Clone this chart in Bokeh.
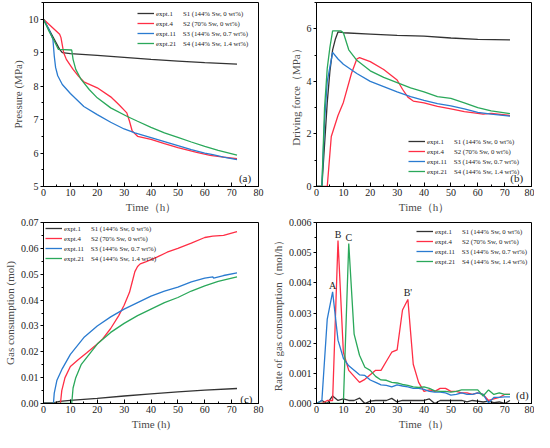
from bokeh.plotting import figure
from bokeh.layouts import gridplot
from bokeh.models import (Legend, LegendItem, SingleIntervalTicker, PrintfTickFormatter,
                          Label, ColumnDataSource, Range1d)
from bokeh.core.properties import value
from bokeh.embed import file_html
from bokeh.resources import INLINE

FONT = "Liberation Serif"
C_BLACK = "#333333"
C_RED = "#ff2e45"
C_BLUE = "#2a7bd0"
C_GREEN = "#2aa85a"

series_names = ["expt.1\u2002\u2002\u2002S1 (144% Sw, 0 wt%)",
                "expt.4\u2002\u2002\u2002S2 (70% Sw, 0 wt%)",
                "expt.11\u2002\u2002S3 (144% Sw, 0.7 wt%)",
                "expt.21\u2002\u2002S4 (144% Sw, 1.4 wt%)"]

# ---------- (a) Pressure ----------
a_s1_t = [0, 2, 4, 6, 7, 10, 20, 30, 40, 50, 60, 72]
a_s1_p = [10, 9.7, 9.4, 9.1, 9.0, 8.97, 8.92, 8.86, 8.8, 8.75, 8.7, 8.66]
a_s2_t = [0, 2, 4, 6, 6.5, 7.5, 8.5, 10, 11, 13, 15, 20, 25, 28, 31, 32, 33, 35, 40, 45, 50, 57, 62, 67, 72]
a_s2_p = [10, 9.85, 9.7, 9.55, 9.45, 9.0, 8.8, 8.62, 8.5, 8.3, 8.13, 7.95, 7.68, 7.45, 7.2, 6.95, 6.66, 6.5,
          6.41, 6.28, 6.16, 6.02, 5.93, 5.88, 5.83]
a_s3_t = [0, 2, 3.5, 4.0, 4.5, 5.3, 7, 10, 15, 20, 25, 30, 34, 40, 45, 50, 55, 60, 63, 67, 72]
a_s3_p = [10, 9.7, 9.4, 8.9, 8.56, 8.31, 8.05, 7.78, 7.39, 7.15, 6.92, 6.72, 6.6, 6.46, 6.34, 6.22,
          6.1, 6.0, 5.95, 5.88, 5.8]
a_s4_t = [0, 2, 4, 5.5, 10.5, 11, 12, 14, 17, 20, 25, 31, 35, 40, 45, 50, 55, 60, 65, 72]
a_s4_p = [10, 9.65, 9.35, 9.1, 9.08, 8.8, 8.5, 8.2, 7.9, 7.65, 7.35, 7.1, 6.95, 6.77, 6.6, 6.47,
          6.33, 6.2, 6.08, 5.94]

# ---------- (b) Driving force ----------
b_s1_t = [0, 2, 3, 4, 5, 6, 7, 8, 10, 20, 30, 40, 50, 60, 72]
b_s1_f = [0, 0, 1.6, 3.2, 4.4, 5.2, 5.6, 5.88, 5.85, 5.8, 5.75, 5.72, 5.65, 5.6, 5.58]
b_s2_t = [0, 4, 5.5, 8, 10, 13, 15, 16, 20, 25, 30, 32, 34, 36, 40, 45, 50, 55, 60, 62, 65, 72]
b_s2_f = [0, 0, 1.9, 2.7, 3.2, 4.3, 4.85, 4.9, 4.75, 4.45, 4.05, 3.7, 3.4, 3.25, 3.18, 3.05, 2.95,
          2.85, 2.78, 2.75, 2.78, 2.7]
b_s3_t = [0, 2, 3, 4, 6, 8, 10, 15, 20, 25, 30, 35, 40, 45, 50, 55, 60, 65, 72]
b_s3_f = [0, 0, 2.5, 4.0, 5.1, 4.85, 4.65, 4.3, 4.0, 3.8, 3.6, 3.42, 3.28, 3.15, 3.07, 2.95, 2.82,
          2.75, 2.68]
b_s4_t = [0, 2, 3, 4, 5, 6, 9, 10, 12, 15, 20, 25, 30, 35, 40, 45, 50, 55, 60, 65, 72]
b_s4_f = [0, 0, 3.0, 4.5, 5.3, 5.92, 5.92, 5.85, 5.2, 4.8, 4.4, 4.15, 3.95, 3.75, 3.6, 3.42, 3.35,
          3.18, 3.0, 2.88, 2.77]

# ---------- (c) Gas consumption ----------
c_s1_t = [0, 4, 6, 10, 20, 30, 40, 50, 60, 72]
c_s1_n = [0.0002, 0.0003, 0.0008, 0.0012, 0.002, 0.0029, 0.0037, 0.0045, 0.0052, 0.0058]
c_s2_t = [0, 6.3, 6.8, 8, 10, 13, 16, 20, 22, 25, 28, 30, 32, 33, 34, 35, 36, 38, 42, 46, 50, 55,
          60, 63, 67, 72]
c_s2_n = [0, 0, 0.005, 0.01, 0.0143, 0.017, 0.0195, 0.023, 0.025, 0.029, 0.034, 0.038, 0.043,
          0.047, 0.051, 0.053, 0.054, 0.0548, 0.0565, 0.0585, 0.06, 0.062, 0.0642, 0.0647, 0.065,
          0.0665]
c_s3_t = [0, 3.7, 4, 5, 7, 10, 15, 20, 25, 30, 35, 40, 45, 50, 55, 60, 63, 63.3, 67, 72]
c_s3_n = [0, 0, 0.004, 0.009, 0.0135, 0.019, 0.0255, 0.03, 0.0335, 0.0365, 0.039, 0.0415, 0.0435,
          0.045, 0.047, 0.0485, 0.049, 0.0485, 0.0495, 0.0505]
c_s4_t = [0, 10.5, 11, 12, 14, 17, 20, 25, 30, 35, 40, 45, 50, 55, 60, 65, 72]
c_s4_n = [0, 0, 0.006, 0.01, 0.015, 0.019, 0.023, 0.0275, 0.031, 0.034, 0.0365, 0.039, 0.041,
          0.0435, 0.0455, 0.0472, 0.049]

# ---------- (d) Rate of gas consumption (2 h steps) ----------
d_t = [0, 2, 4, 6, 8, 10, 12, 14, 16, 18, 20, 22, 24, 26, 28, 30, 32, 34, 36, 38, 40, 42, 44, 46,
       48, 50, 52, 54, 56, 58, 60, 62, 64, 66, 68, 70, 72]
d_s1 = [0, 0.0001, 0, 0.00025, 0.0001, 0.00015, 0.0001, 0.0001, 0.00018, 0, 0.00008, 0.0001,
        0.0001, 0.0001, 0.00017, 0.00005, 0.0001, 0.0001, 0.0001, 0.0001, 0.0001, 0.00015, 0,
        0.0001, 0.0001, 0.0001, 0.0001, 0.0001, 0.00005, 0.0001, 0.00008, 0.00005, 0.00008,
        0.00003, 0.00005, 0, 0.0001]
d_s2 = [0, 0, 0.0001, 0.0001, 0.0054, 0.0017, 0.0011, 0.0009, 0.0007, 0.0008, 0.00095, 0.0011,
        0.0011, 0.0014, 0.0017, 0.00178, 0.0031, 0.00345, 0.0013, 0.0007, 0.0004, 0.00045, 0.0004,
        0.0005, 0.0005, 0.0004, 0.0004, 0.00035, 0.00035, 0.0003, 0.00035, 0.0003, 0.0001,
        0.00015, 0.0002, 0.0003, 0.0003]
d_s3 = [0, 0.0001, 0.0028, 0.0037, 0.0021, 0.0015, 0.00125, 0.0011, 0.00095, 0.00093, 0.00078,
        0.0007, 0.00062, 0.0006, 0.00055, 0.00062, 0.00058, 0.00055, 0.0005, 0.0005, 0.00047,
        0.0004, 0.00038, 0.00038, 0.00035, 0.00028, 0.0003, 0.00035, 0.0003, 0.0003, 0.00035,
        0.0003, 0.00002, 0.0002, 0.0002, 0.00022, 0.00022]
d_s4 = [0, 0, 0, 0, 0, 0, 0.0053, 0.0023, 0.0016, 0.0012, 0.0011, 0.0009, 0.00078, 0.00077,
        0.0007, 0.00068, 0.00063, 0.0006, 0.00055, 0.00053, 0.00055, 0.0005, 0.00042, 0.0004,
        0.0004, 0.00038, 0.0004, 0.00045, 0.00045, 0.00045, 0.00045, 0.00025, 0.00045, 0.0003,
        0.00035, 0.0003, 0.0003]
peak_labels = ["A", "B", "C", "B'"]


def make_fig(w, h, ymin, ymax, ystep, yfmt, xlabel, ylabel, bl, br, bt, bb):
    p = figure(width=w, height=h, output_backend="svg", toolbar_location=None,
               x_range=Range1d(0, 80), y_range=Range1d(ymin, ymax),
               min_border_left=bl, min_border_right=br, min_border_top=bt, min_border_bottom=bb)
    p.grid.visible = False
    p.outline_line_color = "black"
    p.outline_line_width = 1
    p.outline_line_alpha = 1
    p.background_fill_color = "white"
    p.xaxis.ticker = SingleIntervalTicker(interval=10, num_minor_ticks=2)
    p.yaxis.ticker = SingleIntervalTicker(interval=ystep, num_minor_ticks=2)
    if yfmt:
        p.yaxis.formatter = PrintfTickFormatter(format=yfmt)
    for ax in (p.xaxis[0], p.yaxis[0]):
        ax.axis_line_color = "black"
        ax.major_tick_line_color = "black"
        ax.minor_tick_line_color = "black"
        ax.major_label_text_font = FONT
        ax.major_label_text_font_size = "10px"
        ax.major_label_text_color = "#222222"
        ax.axis_label_text_font = FONT
        ax.axis_label_text_font_size = "11px"
        ax.axis_label_text_font_style = "normal"
        ax.axis_label_text_color = "#4a4a4a"
        ax.axis_label_standoff = 2
        ax.major_label_standoff = 2
    p.xaxis.major_tick_in = 4
    p.xaxis.major_tick_out = 0
    p.xaxis.minor_tick_in = 2
    p.xaxis.minor_tick_out = 0
    p.yaxis.major_tick_in = 0
    p.yaxis.major_tick_out = 3
    p.yaxis.minor_tick_in = 0
    p.yaxis.minor_tick_out = 2
    p.xaxis.axis_label = xlabel
    p.yaxis.axis_label = ylabel
    return p


def add_lines(p, data):
    rs = []
    for (xs, ys), col in zip(data, [C_BLACK, C_RED, C_BLUE, C_GREEN]):
        rs.append(p.line(xs, ys, line_color=col, line_width=1.3))
    return rs


def add_legend(p, rs, loc):
    items = [LegendItem(label=n, renderers=[r]) for n, r in zip(series_names, rs)]
    lg = Legend(items=items, location=loc, background_fill_alpha=0, border_line_alpha=0,
                label_text_font=FONT, label_text_font_size="6.8px", label_text_color="#222222",
                label_height=10, glyph_height=10, glyph_width=17, label_standoff=2,
                spacing=0, padding=0, margin=0)
    p.add_layout(lg, "center")


def panel_tag(p, x, y, t):
    p.add_layout(Label(x=x, y=y, text=t, text_font=FONT, text_font_size="11px",
                       text_align="center", text_baseline="middle", text_color="#222222"))


# (a)
pa = make_fig(268, 216, 5, 10.5, 1, None, "Time（h）", "Pressure (MPa)", 23, 10, 2, 30)
ra = add_lines(pa, [(a_s1_t, a_s1_p), (a_s2_t, a_s2_p), (a_s3_t, a_s3_p), (a_s4_t, a_s4_p)])
add_legend(pa, ra, (94, 138))
panel_tag(pa, 75, 5.26, "(a)")

# (b)
pb = make_fig(266, 216, 0, 7, 2, None, "Time（h）", "Driving force（MPa）", 27, 3, 2, 30)
rb = add_lines(pb, [(b_s1_t, b_s1_f), (b_s2_t, b_s2_f), (b_s3_t, b_s3_f), (b_s4_t, b_s4_f)])
add_legend(pb, rb, (92, 10))
panel_tag(pb, 74.5, 0.32, "(b)")

# (c)
pc = make_fig(268, 216, 0, 0.07, 0.01, "%.2f", "Time (h)", "Gas consumption (mol)", 31, 10, 6, 28)
rc = add_lines(pc, [(c_s1_t, c_s1_n), (c_s2_t, c_s2_n), (c_s3_t, c_s3_n), (c_s4_t, c_s4_n)])
add_legend(pc, rc, (2, 140))
panel_tag(pc, 75.5, 0.0018, "(c)")

# (d)
pd_ = make_fig(266, 216, 0, 0.006, 0.001, "%.3f", "Time（h）", "Rate of gas consumption（mol/h）",
               37, 3, 6, 28)
rd = add_lines(pd_, [(d_t, d_s1), (d_t, d_s2), (d_t, d_s3), (d_t, d_s4)])
add_legend(pd_, rd, (100, 137))
panel_tag(pd_, 76.6, 0.00028, "(d)")

# peak annotations computed from the data
i_a = max(range(len(d_t)), key=lambda i: d_s3[i])
i_b = max(range(len(d_t)), key=lambda i: d_s2[i])
i_c = max(range(len(d_t)), key=lambda i: d_s4[i])
i_b2 = max([i for i in range(len(d_t)) if d_t[i] >= 20], key=lambda i: d_s2[i])
pk = ColumnDataSource(dict(
    x=[d_t[i_a], d_t[i_b], d_t[i_c], d_t[i_b2]],
    y=[d_s3[i_a], d_s2[i_b], d_s4[i_c], d_s2[i_b2]],
    t=peak_labels))
pd_.text(x="x", y="y", text="t", source=pk, text_font=value(FONT), text_font_size="10px",
         text_align="center", text_baseline="bottom", y_offset=-1, text_color="#222222")

grid = gridplot([[pa, pb], [pc, pd_]], toolbar_location=None)

open("out.html", "w").write(file_html(grid, INLINE))
